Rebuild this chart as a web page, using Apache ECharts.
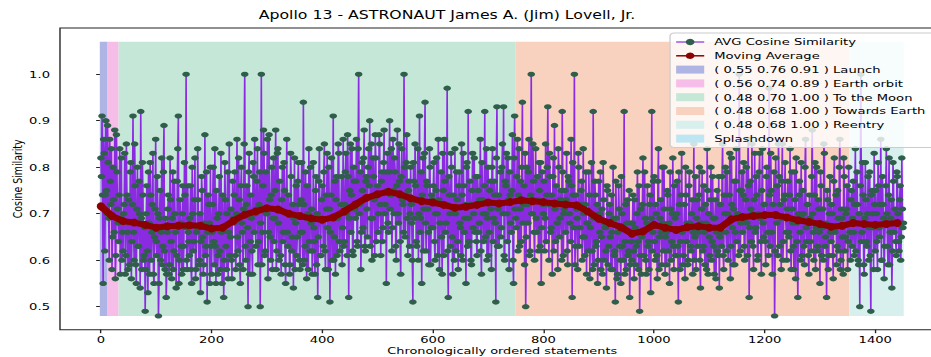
<!DOCTYPE html>
<html>
<head>
<meta charset="utf-8">
<script src="https://cdn.jsdelivr.net/npm/echarts@6/dist/echarts.min.js"></script>
<style>
html, body { margin: 0; padding: 0; background: #fff; overflow: hidden; }
/* the reference picture is stretched sideways, so the chart is drawn narrower and widened */
#chart { width: 680px; height: 357px; transform: scaleX(1.3691); transform-origin: 0 0; }
</style>
</head>
<body>
<div id="chart"></div>
<script>
// values at even statement indices (0, 2, 4, ...)
const avgSimEven = [
  .82,.91,.55,.83,.74,.75,.89,.69,.86,.72,.58,.80,.66,.56,.87,.71,.64,.84,.69,.60,
  .62,.72,.57,.85,.66,.73,.59,.81,.64,.91,.60,.76,.55,.80,.63,.70,.92,.58,.74,.61,
  .49,.70,.62,.79,.57,.74,.66,.83,.55,.71,.64,.78,.48,.69,.60,.82,.63,.89,.58,.52,
  .66,.74,.59,.73,.56,.79,.62,.70,.54,.77,.91,.60,.68,.57,.76,.63,.74,1.0,.58,.66,
  .61,.76,.55,.70,.64,.82,.58,.67,.73,.60,.53,.78,.65,.59,.87,.63,.51,.74,.68,.80,
  .57,.72,.64,.84,.55,.69,.61,.78,.58,.66,.74,.52,.81,.63,.70,.56,.85,.65,.60,.77,
  .68,.79,.58,.86,.62,.73,.55,.80,.66,.71,1.0,.60,.76,.50,.83,.64,.69,.57,.78,.86,
  .63,.77,.59,.72,.50,1.0,.66,.88,.61,.79,.70,.56,.87,.65,.74,.58,.82,.69,.88,.62,
  .84,.60,.71,.57,.80,.66,.75,.55,.86,.63,.70,.59,.78,.65,.54,.82,.68,.61,.77,.72,
  .58,.73,.66,.94,.60,.79,.56,.70,.84,.62,.68,.57,.81,.64,.75,.59,.52,.77,.69,.61,
  .76,.63,.85,.58,.71,.67,.80,.51,.74,.60,.91,.65,.57,.78,.69,.83,.62,.72,.59,.86,
  .64,.79,.70,.87,.52,.75,.66,.84,.61,.77,.69,.86,.63,1.0,.72,.58,.81,.67,.88,.62,
  .78,.65,.84,.90,.69,.60,.82,.73,.87,.64,.76,.70,.85,.61,.79,.67,.88,.72,.55,.83,
  .66,.90,.74,.62,.86,.70,.79,.60,.88,.68,.77,.57,.84,.72,1.0,.65,.81,.69,.75,.63,
  .80,.68,.51,.77,.85,.64,.73,.60,.91,.69,.55,.82,.71,.94,.62,.76,.66,.84,.59,.74,
  .67,.81,.60,.75,.70,.86,.58,.72,.65,.83,.61,.77,.68,.97,.52,.74,.63,.80,.57,.71,
  .84,.62,.73,.58,.79,.67,.85,.60,.76,.69,.55,.81,.92,.64,.72,.59,.83,.70,.66,.78,
  .61,.75,.68,.86,.57,.73,.64,.92,.70,.60,.80,.66,.77,.58,.84,.69,.74,.51,.93,.71,
  .63,.79,.67,.85,.93,.60,.76,.70,.82,.58,.74,.66,.87,.55,.91,.69,.78,.62,.84,.71,
  .64,.94,.72,.59,.50,.80,.68,.86,.62,1.0,.70,.77,.60,.84,.66,.73,.81,.63,.55,.79,
  .70,.62,.85,.74,.93,.60,.78,.67,.57,.82,.89,.64,.72,.58,.80,.69,.75,.92,.61,.71,
  .66,.83,.59,.77,.68,.86,.52,.74,1.0,.63,.71,.58,.80,.67,.75,.60,.84,.65,.72,.57,
  .68,.79,.56,.70,.62,.92,.59,.74,.64,.55,.77,.66,.58,.71,.81,.60,.67,.54,.75,.63,
  .72,.58,.66,.80,.61,.51,.69,.57,.76,.63,.55,.70,.60,.92,.64,.58,.73,.62,.52,.68,
  .60,.74,.56,.67,.63,.79,.58,.49,.71,.65,.82,.61,.69,.57,.76,.64,.72,.53,.92,.66,
  .78,.60,.70,.56,.84,.65,.73,.59,.68,.80,.57,.66,.75,.62,.55,.71,.64,.82,.58,.69,
  .61,.77,.51,.72,.64,.83,.59,.67,.56,.74,.68,.60,.79,.63,.70,.57,.85,.65,.58,.73,
  .66,.80,.54,.71,.62,.76,.59,.68,.84,.57,.65,.73,.60,.78,.63,.69,.56,.75,.61,.54,
  .72,.63,.85,.58,.70,.66,.79,.60,.74,.56,.82,.67,.71,.59,.77,.64,.69,1.0,.62,.75,
  .66,.81,.60,.73,.68,.86,.52,.77,.64,.70,.58,.83,.67,.74,.61,.79,.69,.57,.84,.65,
  .72,.59,.80,.66,.97,.63,.75,.57,.70,.48,.82,.68,.61,.78,.72,.58,.85,.64,.74,.69,
  .60,.77,.65,.84,.58,.71,.63,.79,.56,.68,.52,.74,.66,.81,.61,.70,.59,.86,.64,.72,
  .57,.69,.62,.88,.66,.74,.58,.80,.63,.71,.55,.76,.67,.60,.83,.65,.52,.73,.61,.78,
  .64,.70,.56,.82,.67,.59,.75,.62,.86,.60,.69,.57,.78,.65,.71,.58,.80,.66,.73,.63,
  .77,.61,.84,.68,.72,.59,.50,1.0,.66,.74,.57,.81,.64,.70,.60,.79,.49,.75,.67,.83,
  .62,.70,.58,.76,.65,.86,.60,.72,.56,.68,.84,.63,.74,.59,.69,.54,.81,.66,.71,.61,
  .78,.64,.73,.60,.82,.67
]

// values at odd statement indices (1, 3, 5, ...)
const avgSimOdd = [
  .78,.74,.86,.62,.90,.70,.81,.60,.77,.84,.65,.73,.88,.61,.79,.68,.74,.57,.82,.66,
  .70,.83,.61,.74,.58,.68,.79,.56,.72,.66,.85,.59,.71,.63,.77,.54,.69,.81,.60,.67,
  .58,.76,.53,.68,.81,.60,.72,.57,.65,.86,.61,.70,.55,.75,.66,.59,.79,.62,.69,.57,
  .71,.57,.82,.64,.69,.58,.77,.66,.61,.84,.55,.73,.63,.70,.58,.81,.67,.60,.76,.64,
  .69,.58,.80,.62,.73,.56,.66,.84,.59,.70,.64,.75,.57,.68,.61,.79,.66,.72,.55,.63,
  .66,.80,.59,.63,.75,.57,.70,.62,.83,.55,.67,.60,.73,.58,.79,.66,.61,.71,.56,.69,
  .74,.61,.70,.65,.82,.59,.76,.68,.58,.85,.63,.72,.67,.79,.57,.74,.62,.81,.66,.70,
  .71,.84,.64,.79,.68,.59,.76,.83,.62,.70,.86,.66,.73,.60,.80,.69,.64,.75,.58,.83,
  .68,.77,.61,.73,.64,.81,.59,.70,.66,.74,.57,.83,.62,.72,.69,.58,.76,.65,.81,.60,
  .66,.81,.59,.72,.63,.69,.76,.58,.64,.80,.71,.62,.67,.57,.78,.70,.65,.84,.61,.73,
  .69,.79,.62,.74,.83,.58,.71,.66,.82,.69,.60,.77,.73,.61,.85,.64,.70,.78,.67,.63,
  .72,.83,.61,.78,.69,.85,.74,.62,.80,.71,.77,.64,.84,.70,.79,.66,.75,.82,.63,.77,
  .71,.80,.76,.63,.85,.69,.78,.61,.82,.74,.66,.87,.72,.77,.64,.81,.70,.79,.75,.68,
  .79,.71,.84,.67,.75,.82,.63,.76,.70,.85,.64,.78,.73,.66,.80,.74,.87,.61,.77,.70,
  .72,.60,.81,.69,.76,.63,.84,.70,.66,.79,.74,.62,.83,.68,.77,.71,.59,.80,.67,.73,
  .76,.64,.70,.82,.61,.73,.68,.79,.57,.75,.86,.66,.72,.62,.78,.70,.83,.65,.74,.60,
  .70,.79,.64,.76,.68,.61,.74,.83,.66,.72,.80,.63,.69,.77,.60,.75,.67,.82,.72,.64,
  .78,.66,.73,.62,.81,.70,.76,.65,.84,.69,.61,.75,.71,.80,.64,.77,.68,.82,.63,.74,
  .72,.65,.80,.70,.61,.77,.83,.64,.73,.79,.68,.75,.60,.82,.71,.67,.86,.74,.63,.77,
  .80,.68,.76,.83,.65,.72,.79,.61,.74,.70,.85,.66,.73,.69,.78,.62,.75,.81,.67,.72,
  .77,.69,.64,.80,.72,.83,.66,.74,.78,.62,.71,.76,.68,.84,.65,.73,.60,.79,.70,.75,
  .73,.62,.78,.70,.64,.76,.81,.67,.59,.74,.69,.83,.63,.72,.77,.65,.70,.61,.79,.68,
  .62,.74,.67,.81,.58,.69,.77,.63,.72,.60,.70,.79,.65,.57,.73,.68,.62,.76,.59,.70,
  .65,.74,.58,.69,.62,.77,.56,.66,.71,.60,.78,.63,.67,.57,.72,.68,.61,.75,.59,.64,
  .68,.62,.73,.59,.70,.64,.76,.61,.57,.72,.66,.79,.60,.68,.63,.58,.74,.69,.62,.77,
  .64,.72,.61,.77,.58,.69,.66,.80,.62,.71,.65,.59,.74,.68,.79,.60,.70,.63,.76,.61,
  .70,.63,.79,.58,.74,.66,.61,.72,.80,.64,.59,.76,.68,.62,.73,.66,.60,.78,.69,.63,
  .74,.60,.68,.79,.63,.66,.72,.58,.75,.70,.61,.80,.64,.69,.57,.73,.66,.62,.78,.65,
  .66,.78,.61,.74,.80,.62,.70,.68,.83,.63,.72,.59,.77,.66,.84,.70,.61,.75,.68,.79,
  .74,.63,.69,.80,.61,.76,.67,.71,.85,.63,.73,.66,.78,.60,.70,.83,.64,.75,.68,.72,
  .64,.78,.70,.61,.74,.83,.66,.72,.79,.62,.70,.76,.85,.63,.69,.77,.60,.73,.81,.66,
  .71,.66,.74,.62,.79,.68,.58,.73,.82,.64,.70,.77,.60,.69,.75,.63,.80,.67,.72,.61,
  .74,.64,.78,.70,.60,.81,.67,.62,.73,.66,.79,.61,.71,.85,.63,.68,.75,.58,.70,.66,
  .72,.61,.77,.66,.74,.63,.69,.80,.58,.71,.65,.82,.62,.70,.76,.64,.68,.60,.75,.69,
  .66,.72,.62,.79,.60,.70,.76,.64,.81,.59,.69,.73,.63,.78,.67,.61,.74,.70,.58,.72,
  .75,.64,.81,.67,.72,.60,.78,.69,.63,.76,.70,.59,.82,.66,.73,.62,.77,.68,.64,.79,
  .70,.62,.76,.65,.71,.68
]

const MA_STEP = 20
const movingAvg = [
  .716,.695,.684,.681,.676,.670,.673,.674,.675,.674,.668,.670,.685,.698,.705,.712,.709,.700,.695,.690,
  .687,.692,.705,.720,.734,.742,.747,.742,.733,.727,.724,.719,.713,.715,.719,.724,.722,.725,.729,.727,
  .725,.722,.720,.718,.705,.689,.680,.671,.657,.662,.676,.670,.665,.671,.673,.670,.670,.688,.693,.695,
  .697,.697,.692,.686,.682,.678,.672,.674,.680,.678,.676,.678,.680
]

const regionNames = [
  '( 0.55 0.76 0.91 ) Launch',
  '( 0.56 0.74 0.89 ) Earth orbit',
  '( 0.48 0.70 1.00 ) To the Moon',
  '( 0.48 0.68 1.00 ) Towards Earth',
  '( 0.48 0.68 1.00 ) Reentry',
  'Splashdown'
]
const regionStart = [-2, 11, 32, 750, 1353, 1450]
const regionEnd = [11, 32, 750, 1353, 1450, 1451]
const shadeLow = 0.48
const shadeHigh = 1.07
const regionColors = ['#aeb5e4', '#f7bde9', '#c5e7d8', '#f8d1bf', '#d7f0ee', '#bde6f2']

const xTicks = [0, 200, 400, 600, 800, 1000, 1200, 1400]
const yTicks = [0.5, 0.6, 0.7, 0.8, 0.9, 1.0]

// merge the two halves back into statement order
const avgSimData = []
avgSimEven.forEach((v, i) => {
  avgSimData.push([2 * i, v])
  if (i < avgSimOdd.length) avgSimData.push([2 * i + 1, avgSimOdd[i]])
})

const chart = echarts.init(document.getElementById('chart'), null, { renderer: 'svg' })

const regionSeries = regionNames.map((name, i) => ({
  name,
  type: 'line',
  data: [],
  z: 1,
  silent: true,
  itemStyle: { color: regionColors[i] },
  lineStyle: { color: regionColors[i] },
  markArea: {
    silent: true,
    itemStyle: { color: regionColors[i], opacity: 1 },
    data: [[
      { xAxis: regionStart[i], yAxis: shadeLow },
      { xAxis: regionEnd[i], yAxis: shadeHigh }
    ]]
  }
}))

const option = {
  animation: false,
  textStyle: { fontFamily: 'DejaVu Sans', color: '#000' },
  title: {
    text: 'Apollo 13 - ASTRONAUT James A. (Jim) Lovell, Jr.',
    left: 326.5,
    top: 9,
    padding: 0,
    textAlign: 'center',
    textStyle: { fontSize: 11.5, fontWeight: 'normal', color: '#000', fontFamily: 'DejaVu Sans' }
  },
  legend: {
    orient: 'vertical',
    left: 489.4,
    top: 33,
    padding: [3, 16, 3, 3.7],
    itemWidth: 20.5,
    itemHeight: 8,
    itemGap: 1.8,
    backgroundColor: 'rgba(255,255,255,0.8)',
    borderColor: '#cccccc',
    borderWidth: 1,
    borderRadius: 3,
    selectedMode: false,
    textStyle: { fontSize: 9.6, lineHeight: 12, color: '#000', padding: [0, 0, 0, 2.3] },
    data: [
      { name: 'AVG Cosine Similarity', lineStyle: { width: 1.2 } },
      { name: 'Moving Average', lineStyle: { width: 1.5 } },
      ...regionNames.map((name, i) => ({ name, icon: 'rect', itemStyle: { color: regionColors[i], borderWidth: 0 } }))
    ]
  },
  grid: {
    left: 43.82,
    right: -9.8,
    top: 28,
    bottom: 27.3,
    outerBoundsMode: 'none',
    containLabel: false,
    show: true,
    borderColor: '#222',
    borderWidth: 1,
    backgroundColor: 'transparent'
  },
  xAxis: {
    type: 'value',
    min: -74,
    max: 1525,
    name: 'Chronologically ordered statements',
    nameLocation: 'middle',
    nameGap: 16.5,
    nameMoveOverlap: false,
    nameTextStyle: { fontSize: 9.4, lineHeight: 10.5, color: '#000' },
    axisLine: { show: false },
    axisTick: { show: true, length: 3.5, lineStyle: { color: '#222' }, customValues: xTicks },
    axisLabel: { fontSize: 9.6, lineHeight: 10.5, color: '#000', margin: 5, customValues: xTicks, formatter: v => String(v) },
    splitLine: { show: false }
  },
  yAxis: {
    type: 'value',
    min: 0.4505,
    max: 1.0995,
    name: 'Cosine Similarity',
    nameLocation: 'middle',
    nameGap: 26,
    nameMoveOverlap: false,
    nameTextStyle: { fontSize: 9.4, color: '#000' },
    axisLine: { show: false },
    axisTick: { show: true, length: 3.5, lineStyle: { color: '#222' }, customValues: yTicks },
    axisLabel: { fontSize: 9.6, color: '#000', margin: 7.3, customValues: yTicks, formatter: v => v.toFixed(1) },
    splitLine: { show: false }
  },
  series: [
    ...regionSeries,
    {
      name: 'AVG Cosine Similarity',
      type: 'line',
      z: 3,
      data: avgSimData,
      symbol: 'circle',
      symbolSize: [5.6, 5.2],
      lineStyle: { color: '#8a2be2', width: 1.2 },
      itemStyle: { color: '#2f5e4b' },
      emphasis: { disabled: true }
    },
    {
      name: 'Moving Average',
      type: 'line',
      z: 4,
      data: movingAvg.map((v, i) => [i * MA_STEP, v]),
      symbol: 'circle',
      symbolSize: [6, 8],
      lineStyle: { color: '#8b0000', width: 6 },
      itemStyle: { color: '#8b0000' },
      emphasis: { disabled: true }
    }
  ]
}

chart.setOption(option)
</script>
</body>
</html>
